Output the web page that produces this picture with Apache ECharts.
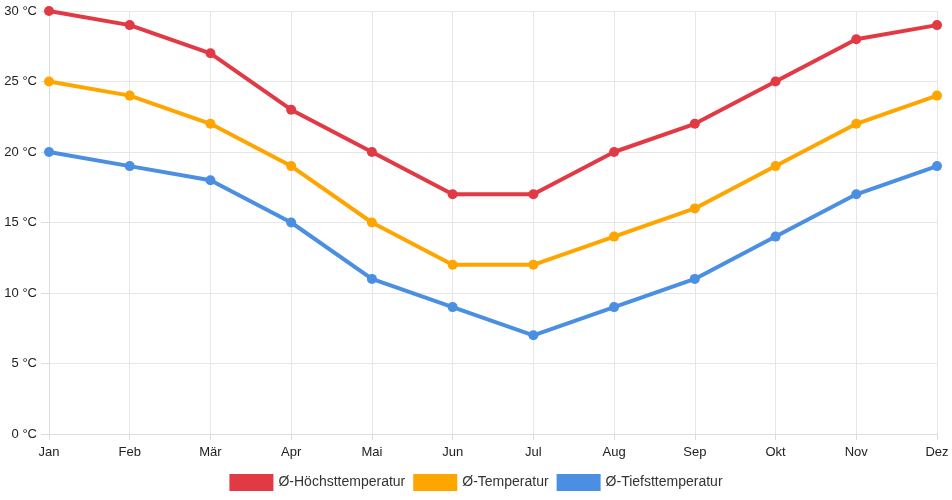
<!DOCTYPE html>
<html>
<head>
<meta charset="utf-8">
<script src="https://cdn.jsdelivr.net/npm/echarts@6/dist/echarts.min.js"></script>
<style>
  html, body { margin: 0; padding: 0; background: #fff; }
  #chart { width: 952px; height: 500px; }
</style>
</head>
<body>
<div id="chart"></div>
<script>
// Monatswerte
var months = ['Jan', 'Feb', 'Mär', 'Apr', 'Mai', 'Jun', 'Jul', 'Aug', 'Sep', 'Okt', 'Nov', 'Dez'];
var hoechst = [30, 29, 27, 23, 20, 17, 17, 20, 22, 25, 28, 29];
var mittel = [25, 24, 22, 19, 15, 12, 12, 14, 16, 19, 22, 24];
var tiefst = [20, 19, 18, 15, 11, 9, 7, 9, 11, 14, 17, 19];
var seriesNames = ['Ø-Höchsttemperatur', 'Ø-Temperatur', 'Ø-Tiefsttemperatur'];
var colors = ['#e23a45', '#ffa500', '#4a8fe2'];

var chart = echarts.init(document.getElementById('chart'));

function makeLine(name, data, color) {
    return {
        name: name,
        type: 'line',
        data: data,
        symbol: 'circle',
        symbolSize: 10,
        showSymbol: true,
        itemStyle: { color: color },
        lineStyle: { color: color, width: 4 },
        emphasis: { disabled: true }
    };
}

var option = {
    animation: false,
    textStyle: { fontFamily: 'Liberation Sans, Arial, sans-serif' },
    grid: { left: 49, right: 15, top: 11, bottom: 66, containLabel: false },
    legend: {
        bottom: 4,
        left: 'center',
        icon: 'rect',
        itemWidth: 44,
        itemHeight: 17,
        itemGap: 8,
        textStyle: { fontSize: 14, color: '#333' },
        data: seriesNames
    },
    xAxis: {
        type: 'category',
        data: months,
        boundaryGap: false,
        axisLine: { lineStyle: { color: '#ddd' } },
        axisTick: { show: true, length: 6, alignWithLabel: true, lineStyle: { color: '#ddd' } },
        axisLabel: { color: '#222', fontSize: 13, margin: 12 },
        splitLine: { show: true, lineStyle: { color: '#e6e6e6' } }
    },
    yAxis: {
        type: 'value',
        min: 0,
        max: 30,
        interval: 5,
        axisLine: { show: true, lineStyle: { color: '#ddd' } },
        axisTick: { show: true, length: 8, lineStyle: { color: '#ddd' } },
        axisLabel: { color: '#222', fontSize: 13, margin: 12, formatter: '{value} °C' },
        splitLine: { show: true, lineStyle: { color: '#e6e6e6' } }
    },
    series: [
        makeLine(seriesNames[0], hoechst, colors[0]),
        makeLine(seriesNames[1], mittel, colors[1]),
        makeLine(seriesNames[2], tiefst, colors[2])
    ]
};

chart.setOption(option);
</script>
</body>
</html>
